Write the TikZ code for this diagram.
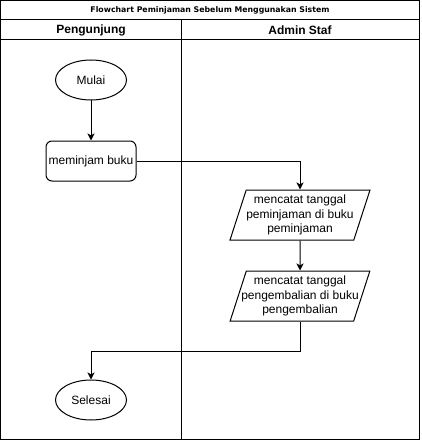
\documentclass[tikz,border=0pt]{standalone}
\usepackage{fontspec}
\setmainfont{Liberation Sans}
\newfontfamily\titlefont{DejaVu Sans}
\usetikzlibrary{positioning,arrows.meta,shapes.geometric}

\begin{document}
\begin{tikzpicture}[
  x=1pt, y=-1pt,
  line width=1pt,
  node distance=40pt,
  font=\fontsize{12}{14.4}\selectfont,
  term/.style={draw, ellipse, minimum width=71pt, minimum height=40pt, inner sep=0pt},
  proc/.style={draw, rounded corners=6pt, minimum width=90pt, minimum height=40pt, inner sep=0pt},
  data/.style={draw, trapezium, trapezium left angle=68, trapezium right angle=112,
    trapezium stretches=true, minimum width=140pt, minimum height=50pt, inner sep=0pt, align=center},
  lane/.style={font=\fontsize{12}{14}\selectfont\bfseries},
  >={Stealth[length=7pt, width=7pt, inset=1.8pt]}
]
\useasboundingbox (0,0) rectangle (421,441);
% pool frame
\draw (0.5,0.5) rectangle (419.5,439.5);
\draw (0.5,20) -- (419.5,20);
\draw (0.5,40) -- (419.5,40);
\draw (181,20) -- (181,439.5);
\node[font=\titlefont\fontsize{7.8}{8}\selectfont\bfseries] (title) at (210,10) {Flowchart Peminjaman Sebelum Menggunakan Sistem};
\node[lane] (pengunjung) at (91,30) {Pengunjung};
\node[lane] (admin) at (300,30) {Admin Staf};
% steps
\node[term] (mulai) at (91,80) {Mulai};
\node[proc, below=of mulai] (pinjam) {meminjam buku};
\node[data] (catat1) at (300,215) {mencatat tanggal\\peminjaman di buku\\peminjaman};
\node[data, inner xsep=-5pt, below=30pt of catat1] (catat2) {mencatat tanggal\\pengembalian di buku\\pengembalian};
\node[term] (selesai) at (91,400) {Selesai};
\draw[->] (mulai) -- (pinjam);
\draw[->] (pinjam.east) -| (catat1.north);
\draw[->] (catat1) -- (catat2);
\draw[->] (catat2.south) -- ++(0,30) -| (selesai.north);
\end{tikzpicture}
\end{document}
